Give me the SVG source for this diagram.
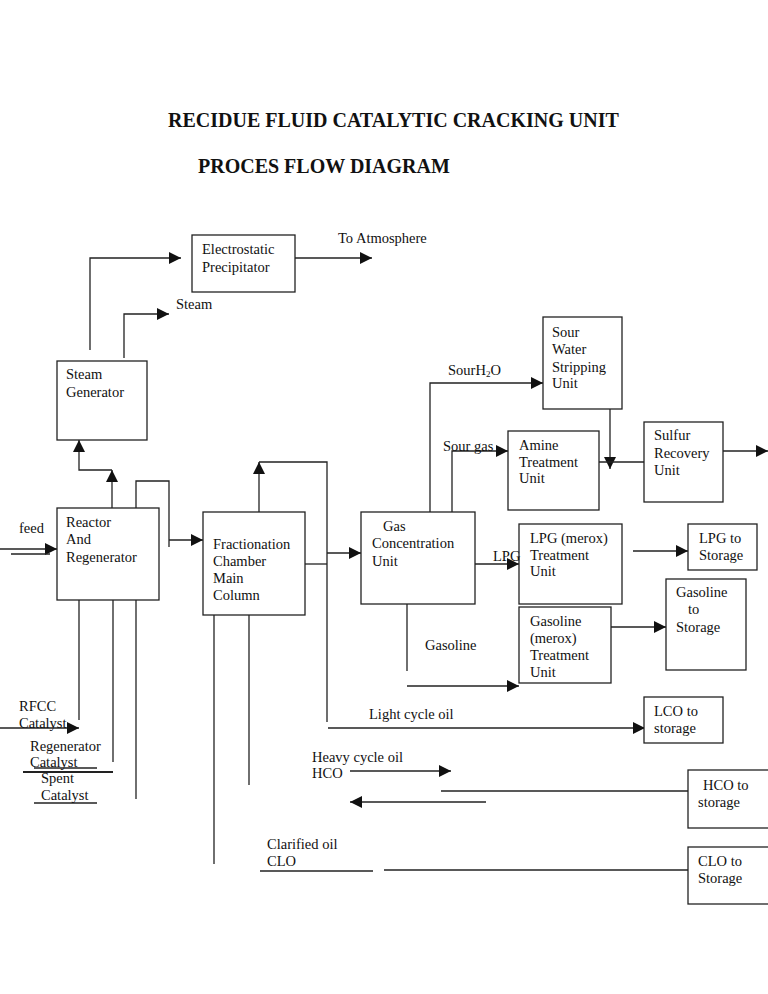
<svg xmlns="http://www.w3.org/2000/svg" width="768" height="994" viewBox="0 0 768 994">
<style>
.box{fill:#fff;stroke:#222;stroke-width:1.3}
.ln{fill:none;stroke:#222;stroke-width:1.3}
.ar{fill:none;stroke:#222;stroke-width:1.3;marker-end:url(#ah)}
text{font-family:"Liberation Serif","Times New Roman",serif;font-size:14.5px;fill:#111}
.title{font-size:20px;font-weight:bold}
</style>
<defs>
<marker id="ah" viewBox="0 0 12 12" refX="12" refY="6" markerWidth="12" markerHeight="12" markerUnits="userSpaceOnUse" orient="auto">
<path d="M0,0 L12,6 L0,12 z" fill="#111"/>
</marker>
</defs>
<rect width="768" height="994" fill="#fff"/>
<text class="title" x="168" y="127">RECIDUE FLUID CATALYTIC CRACKING UNIT</text>
<text class="title" x="198" y="173">PROCES FLOW DIAGRAM</text>

<g id="connectors">
<path class="ar" d="M90,350 V258 H181"/>
<path class="ar" d="M295,258 H372"/>
<path class="ar" d="M124,358 V314 H169"/>
<path class="ar" d="M112,508 V470"/>
<path class="ar" d="M112,470 H79 V440"/>
<path class="ln" d="M136,508 V481 H169 V547"/>
<path class="ar" d="M169,540 H203"/>
<path class="ar" d="M0,549 H57"/>
<path class="ln" d="M11,554 H50"/>
<path class="ar" d="M259,518 V462"/>
<path class="ln" d="M259,462 H327 V722"/>
<path class="ln" d="M305,564 H327"/>
<path class="ar" d="M327,553 H361"/>
<path class="ar" d="M430,512 V383 H543"/>
<path class="ar" d="M452,512 V451 H508"/>
<path class="ar" d="M610,403 V469"/>
<path class="ln" d="M599,462 H644"/>
<path class="ar" d="M723,451 H768"/>
<path class="ar" d="M475,564 H519"/>
<path class="ar" d="M633,551 H688"/>
<path class="ar" d="M611,627 H666"/>
<path class="ln" d="M407,604 V671"/>
<path class="ar" d="M407,686 H519"/>
<path class="ar" d="M328,728 H645"/>
<path class="ar" d="M350,771 H451"/>
<path class="ln" d="M441,791 H688"/>
<path class="ar" d="M486,802 H350"/>
<path class="ln" d="M260,871 H373"/>
<path class="ln" d="M384,870 H688"/>
<path class="ln" d="M214,615 V864"/>
<path class="ln" d="M249,615 V785"/>
<path class="ln" d="M79,591 V720"/>
<path class="ln" d="M113,593 V762"/>
<path class="ln" d="M136,591 V799"/>
<path class="ar" d="M0,728 H79"/>
<path class="ln" d="M34,768 H97"/>
<path class="ln" d="M23,772 H113" style="stroke-width:2"/>
<path class="ln" d="M34,803 H97"/>
</g>

<g id="electrostatic-precipitator">
<rect class="box" x="192" y="235" width="103" height="57"/>
<text x="202" y="254">Electrostatic</text>
<text x="202" y="272">Precipitator</text>
</g>
<g id="steam-generator">
<rect class="box" x="57" y="361" width="90" height="79"/>
<text x="66" y="379">Steam</text>
<text x="66" y="397">Generator</text>
</g>
<g id="reactor">
<rect class="box" x="57" y="508" width="102" height="92"/>
<text x="66" y="527">Reactor</text>
<text x="66" y="544">And</text>
<text x="66" y="562">Regenerator</text>
</g>
<g id="fractionation">
<rect class="box" x="203" y="512" width="102" height="103"/>
<text x="213" y="549">Fractionation</text>
<text x="213" y="566">Chamber</text>
<text x="213" y="583">Main</text>
<text x="213" y="600">Column</text>
</g>
<g id="gas-concentration">
<rect class="box" x="361" y="512" width="114" height="92"/>
<text x="383" y="531">Gas</text>
<text x="372" y="548">Concentration</text>
<text x="372" y="566">Unit</text>
</g>
<g id="sour-water-stripping">
<rect class="box" x="543" y="317" width="79" height="92"/>
<text x="552" y="337">Sour</text>
<text x="552" y="354">Water</text>
<text x="552" y="372">Stripping</text>
<text x="552" y="388">Unit</text>
</g>
<g id="amine-treatment">
<rect class="box" x="508" y="431" width="91" height="79"/>
<text x="519" y="450">Amine</text>
<text x="519" y="467">Treatment</text>
<text x="519" y="483">Unit</text>
</g>
<g id="sulfur-recovery">
<rect class="box" x="644" y="422" width="79" height="80"/>
<text x="654" y="440">Sulfur</text>
<text x="654" y="458">Recovery</text>
<text x="654" y="475">Unit</text>
</g>
<g id="lpg-treatment">
<rect class="box" x="519" y="524" width="103" height="80"/>
<text x="530" y="543">LPG (merox)</text>
<text x="530" y="560">Treatment</text>
<text x="530" y="576">Unit</text>
</g>
<g id="lpg-storage">
<rect class="box" x="688" y="524" width="69" height="46"/>
<text x="699" y="543">LPG to</text>
<text x="699" y="560">Storage</text>
</g>
<g id="gasoline-storage">
<rect class="box" x="666" y="579" width="80" height="91"/>
<text x="676" y="597">Gasoline</text>
<text x="688" y="614">to</text>
<text x="676" y="632">Storage</text>
</g>
<g id="gasoline-treatment">
<rect class="box" x="519" y="607" width="92" height="76"/>
<text x="530" y="626">Gasoline</text>
<text x="530" y="643">(merox)</text>
<text x="530" y="660">Treatment</text>
<text x="530" y="677">Unit</text>
</g>
<g id="lco-storage">
<rect class="box" x="644" y="697" width="79" height="46"/>
<text x="654" y="716">LCO to</text>
<text x="654" y="733">storage</text>
</g>
<g id="hco-storage">
<rect class="box" x="688" y="770" width="84" height="58"/>
<text x="703" y="790">HCO to</text>
<text x="698" y="807">storage</text>
</g>
<g id="clo-storage">
<rect class="box" x="688" y="847" width="84" height="57"/>
<text x="698" y="866">CLO to</text>
<text x="698" y="883">Storage</text>
</g>

<g id="labels">
<text x="338" y="243">To Atmosphere</text>
<text x="176" y="309">Steam</text>
<text x="19" y="533">feed</text>
<text x="448" y="375">SourH<tspan font-size="9" dy="2">2</tspan><tspan dy="-2">O</tspan></text>
<text x="443" y="451">Sour gas</text>
<text x="493" y="561">LPG</text>
<text x="425" y="650">Gasoline</text>
<text x="369" y="719">Light cycle oil</text>
<text x="312" y="762">Heavy cycle oil</text>
<text x="312" y="778">HCO</text>
<text x="267" y="849">Clarified oil</text>
<text x="267" y="866">CLO</text>
<text x="19" y="711">RFCC</text>
<text x="19" y="728">Catalyst</text>
<text x="30" y="751">Regenerator</text>
<text x="30" y="767">Catalyst</text>
<text x="41" y="783">Spent</text>
<text x="41" y="800">Catalyst</text>
</g>
</svg>
